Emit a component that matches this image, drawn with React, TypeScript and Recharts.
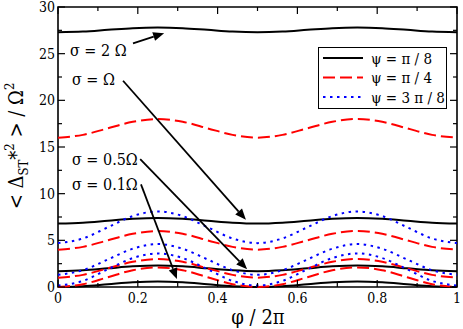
import { LineChart, Line, XAxis, YAxis, ReferenceArea, ReferenceLine, ReferenceDot, Legend } from 'recharts'

// phi / 2pi sample points
const phi = [0, 0.0625, 0.125, 0.1875, 0.25, 0.3125, 0.375, 0.4375, 0.5, 0.5625, 0.625, 0.6875, 0.75, 0.8125, 0.875, 0.9375, 1]

// sigma = 2 Omega
const blackS2 = [27.3, 27.37, 27.55, 27.73, 27.8, 27.73, 27.55, 27.37, 27.3, 27.37, 27.55, 27.73, 27.8, 27.73, 27.55, 27.37, 27.3]
const redS2 = [16, 16.3, 17, 17.7, 18, 17.7, 17, 16.3, 16, 16.3, 17, 17.7, 18, 17.7, 17, 16.3, 16]
// sigma = Omega
const blackS1 = [6.8, 6.89, 7.1, 7.31, 7.4, 7.31, 7.1, 6.89, 6.8, 6.89, 7.1, 7.31, 7.4, 7.31, 7.1, 6.89, 6.8]
const redS1 = [4, 4.3, 5, 5.7, 6, 5.7, 5, 4.3, 4, 4.3, 5, 5.7, 6, 5.7, 5, 4.3, 4]
const blueS1 = [4.7, 5.2, 6.4, 7.6, 8.1, 7.6, 6.4, 5.2, 4.7, 5.2, 6.4, 7.6, 8.1, 7.6, 6.4, 5.2, 4.7]
// sigma = 0.5 Omega
const blackS05 = [1.7, 1.79, 2, 2.21, 2.3, 2.21, 2, 1.79, 1.7, 1.79, 2, 2.21, 2.3, 2.21, 2, 1.79, 1.7]
const redS05 = [1, 1.3, 2, 2.7, 3, 2.7, 2, 1.3, 1, 1.3, 2, 2.7, 3, 2.7, 2, 1.3, 1]
const blueS05 = [1.3, 1.8, 2.95, 4.1, 4.6, 4.1, 2.95, 1.8, 1.3, 1.8, 2.95, 4.1, 4.6, 4.1, 2.95, 1.8, 1.3]
// sigma = 0.1 Omega
const blackS01 = [0, 0.09, 0.3, 0.51, 0.6, 0.51, 0.3, 0.09, 0, 0.09, 0.3, 0.51, 0.6, 0.51, 0.3, 0.09, 0]
const redS01 = [0, 0.3, 1.05, 1.8, 2.1, 1.8, 1.05, 0.3, 0, 0.3, 1.05, 1.8, 2.1, 1.8, 1.05, 0.3, 0]
const blueS01 = [0.15, 0.65, 1.9, 3.1, 3.6, 3.1, 1.9, 0.65, 0.15, 0.65, 1.9, 3.1, 3.6, 3.1, 1.9, 0.65, 0.15]

const xTicks = [0, 0.1, 0.2, 0.3, 0.4, 0.5, 0.6, 0.7, 0.8, 0.9, 1]
const yTicks = [0, 2.5, 5, 7.5, 10, 12.5, 15, 17.5, 20, 22.5, 25, 27.5, 30]

// annotation texts and arrows (data coordinates)
const notes = [
  { text: 'σ = 2 Ω', tx: 0.03, ty: 25.4, from: [0.188, 26.1], to: [0.266, 27.2] },
  { text: 'σ = Ω', tx: 0.035, ty: 22.3, from: [0.163, 22.1], to: [0.471, 7.2] },
  { text: 'σ = 0.5Ω', tx: 0.035, ty: 13.7, from: [0.206, 13.7], to: [0.474, 1.9] },
  { text: 'σ = 0.1Ω', tx: 0.035, ty: 11.0, from: [0.208, 11.0], to: [0.298, 0.85] },
]

const legendItems = [
  { label: 'ψ = π / 8', color: '#000000', dash: undefined },
  { label: 'ψ = π / 4', color: '#ff0000', dash: '12 5' },
  { label: 'ψ = 3 π / 8', color: '#0000ff', dash: '2.5 4.5' },
]

const data = phi.map((p, i) => ({
  phi: p,
  blackS2: blackS2[i], redS2: redS2[i],
  blackS1: blackS1[i], redS1: redS1[i], blueS1: blueS1[i],
  blackS05: blackS05[i], redS05: redS05[i], blueS05: blueS05[i],
  blackS01: blackS01[i], redS01: redS01[i], blueS01: blueS01[i],
}))

const series = [
  { key: 'blackS2', color: '#000000', dash: undefined },
  { key: 'redS2', color: '#ff0000', dash: '12 5' },
  { key: 'blackS1', color: '#000000', dash: undefined },
  { key: 'redS1', color: '#ff0000', dash: '12 5' },
  { key: 'blueS1', color: '#0000ff', dash: '2.5 4.5' },
  { key: 'blackS05', color: '#000000', dash: undefined },
  { key: 'redS05', color: '#ff0000', dash: '12 5' },
  { key: 'blueS05', color: '#0000ff', dash: '2.5 4.5' },
  { key: 'blackS01', color: '#000000', dash: undefined },
  { key: 'redS01', color: '#ff0000', dash: '12 5' },
  { key: 'blueS01', color: '#0000ff', dash: '2.5 4.5' },
]

const FONT = "'DejaVu Serif Condensed', 'DejaVu Serif'"
const serif = { fontFamily: FONT }
const PLOT_W = 399
const PLOT_H = 280

const XTick = (props: any) => {
  const { x, y, payload } = props
  const v = payload.value
  const major = Math.abs(v * 5 - Math.round(v * 5)) < 1e-6
  const len = major ? 7 : 4
  return (
    <g>
      <line x1={x} y1={y} x2={x} y2={y - len} stroke="#000" strokeWidth={1.2} />
      <line x1={x} y1={y - PLOT_H} x2={x} y2={y - PLOT_H + len} stroke="#000" strokeWidth={1.2} />
      {major && (
        <text x={x} y={y + 16} textAnchor="middle" style={serif} fontSize={14} fill="#000">{String(v)}</text>
      )}
    </g>
  )
}

const YTick = (props: any) => {
  const { x, y, payload } = props
  const v = payload.value
  const major = v % 5 === 0
  const len = major ? 7 : 4
  return (
    <g>
      <line x1={x} y1={y} x2={x + len} y2={y} stroke="#000" strokeWidth={1.2} />
      <line x1={x + PLOT_W} y1={y} x2={x + PLOT_W - len} y2={y} stroke="#000" strokeWidth={1.2} />
      {major && (
        <text x={x - 3} y={y + 5} textAnchor="end" style={serif} fontSize={14} fill="#000">{String(v)}</text>
      )}
    </g>
  )
}

const Arrow = (props: any) => {
  const { x1, y1, x2, y2 } = props
  const ang = Math.atan2(y2 - y1, x2 - x1)
  const L = 11
  const W = 4.5
  const bx = x2 - L * Math.cos(ang)
  const by = y2 - L * Math.sin(ang)
  const px = -Math.sin(ang) * W
  const py = Math.cos(ang) * W
  return (
    <g>
      <line x1={x1} y1={y1} x2={bx} y2={by} stroke="#000" strokeWidth={1.8} />
      <polygon points={`${x2},${y2} ${bx + px},${by + py} ${bx - px},${by - py}`} fill="#000" />
    </g>
  )
}

const LegendBox = () => (
  <div style={{ width: 129, height: 62, border: '1.5px solid #000', background: '#fff', boxSizing: 'border-box' }}>
    <svg width={126} height={59}>
      {legendItems.map((it, i) => (
        <g key={it.label}>
          <line x1={4} x2={44} y1={10 + i * 19.5} y2={10 + i * 19.5} stroke={it.color} strokeWidth={2} strokeDasharray={it.dash} />
          <text x={52} y={15.5 + i * 19.5} style={serif} fontSize={15} fill="#000">{it.label}</text>
        </g>
      ))}
    </svg>
  </div>
)

const YLabel = () => (
  <text transform="translate(23,146) rotate(-90)" textAnchor="middle" style={serif} fontSize={20} fill="#000">
    {'< Δ'}
    <tspan fontSize={13} dy={5}>ST</tspan>
    <tspan dy={-5}>*</tspan>
    <tspan fontSize={13} dy={-9}>2</tspan>
    <tspan dy={9}>{' > / Ω'}</tspan>
    <tspan fontSize={13} dy={-9}>2</tspan>
  </text>
)

export default function App() {
  return (
    <div style={{ position: 'absolute', left: 0, top: 0, width: 463, height: 329, background: '#fff', fontFamily: FONT }}>
      <LineChart width={463} height={329} data={data} margin={{ top: 7, right: 6, bottom: 0, left: 0 }}>
        <XAxis
          dataKey="phi" type="number" domain={[0, 1]} ticks={xTicks} interval={0}
          tickSize={0} tickMargin={0} tickLine={false} axisLine={false} height={42}
          tick={<XTick />}
          label={{ content: () => <text x={258} y={324} textAnchor="middle" style={serif} fontSize={20} fill="#000">φ / 2π</text> }}
        />
        <YAxis
          type="number" domain={[0, 30]} ticks={yTicks} interval={0}
          tickSize={0} tickMargin={0} tickLine={false} axisLine={false} width={58}
          tick={<YTick />}
          label={{ content: () => <YLabel /> }}
        />
        <ReferenceArea x1={0} x2={1} y1={0} y2={30} fill="none" stroke="#000" strokeWidth={1.6} fillOpacity={0} ifOverflow="visible" />
        {series.map((s) => (
          <Line
            key={s.key} dataKey={s.key} type="monotone" stroke={s.color} strokeWidth={2}
            strokeDasharray={s.dash} dot={false} activeDot={false} isAnimationActive={false}
            legendType="none"
          />
        ))}
        {notes.map((n) => (
          <ReferenceLine
            key={n.text} segment={[{ x: n.from[0], y: n.from[1] }, { x: n.to[0], y: n.to[1] }]}
            ifOverflow="visible" shape={<Arrow />}
          />
        ))}
        {notes.map((n) => (
          <ReferenceDot
            key={'t' + n.text} x={n.tx} y={n.ty} r={0} ifOverflow="visible"
            shape={(p: any) => (
              <text x={p.cx} y={p.cy + 6} style={serif} fontSize={16} fill="#000">{n.text}</text>
            )}
          />
        ))}
        <Legend
          layout="vertical" align="center" verticalAlign="middle"
          wrapperStyle={{ left: 318, top: 47, width: 129, height: 62 }}
          content={() => <LegendBox />}
        />
      </LineChart>
    </div>
  )
}
